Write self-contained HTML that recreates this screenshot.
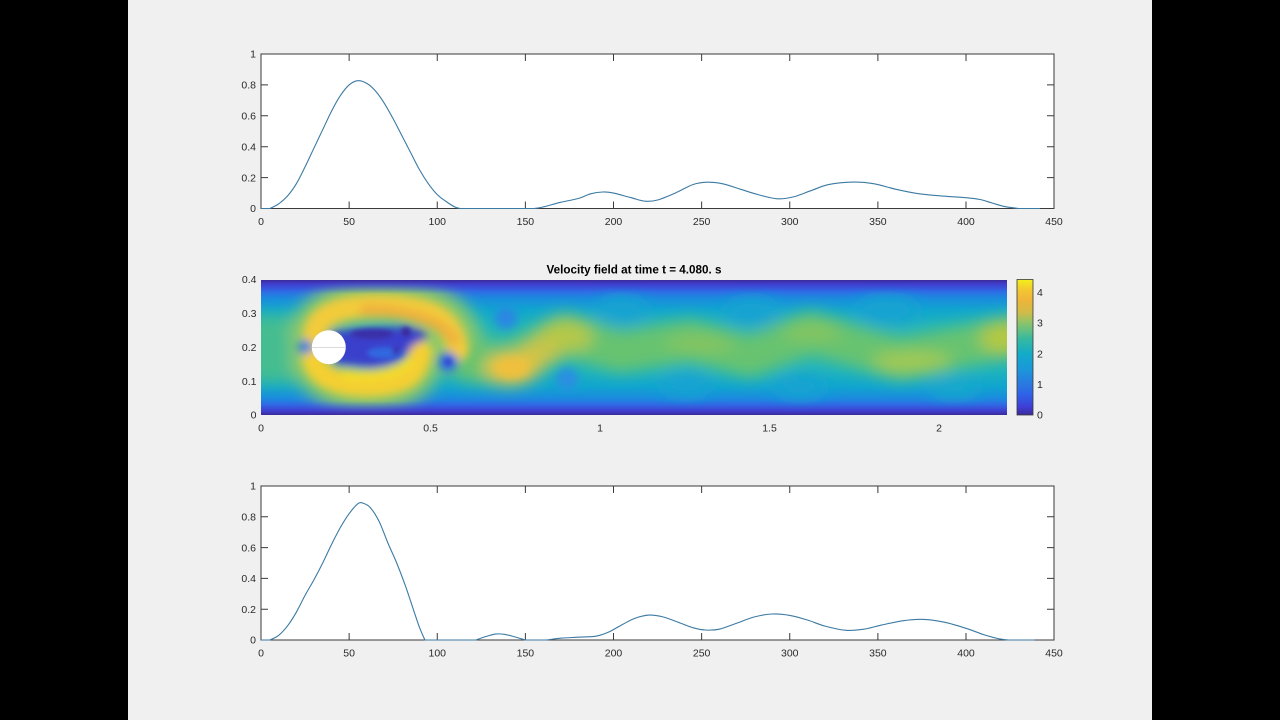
<!DOCTYPE html>
<html>
<head>
<meta charset="utf-8">
<style>
html,body{margin:0;padding:0;background:#000;}
body{width:1280px;height:720px;overflow:hidden;}
svg{display:block;}
text{font-family:"Liberation Sans",Arial,Helvetica,sans-serif;}
</style>
</head>
<body>
<svg id="fig" width="1280" height="720" viewBox="0 0 1280 720" xmlns="http://www.w3.org/2000/svg">
<defs>
  <linearGradient id="base" x1="0" y1="280" x2="0" y2="415" gradientUnits="userSpaceOnUse">
    <stop offset="0" stop-color="#3b2a9a"/>
    <stop offset="0.03" stop-color="#3f3fcf"/>
    <stop offset="0.08" stop-color="#2f6ae6"/>
    <stop offset="0.14" stop-color="#1a8ddd"/>
    <stop offset="0.22" stop-color="#10a5cf"/>
    <stop offset="0.33" stop-color="#1db3bd"/>
    <stop offset="0.5" stop-color="#36baa4"/>
    <stop offset="0.67" stop-color="#1db3bd"/>
    <stop offset="0.79" stop-color="#10a5cf"/>
    <stop offset="0.87" stop-color="#1a8ddd"/>
    <stop offset="0.93" stop-color="#2f6ae6"/>
    <stop offset="0.975" stop-color="#3f3fcf"/>
    <stop offset="1" stop-color="#3b2a9a"/>
  </linearGradient>
  <linearGradient id="wallTop" x1="0" y1="280" x2="0" y2="294" gradientUnits="userSpaceOnUse">
    <stop offset="0" stop-color="#3b2a9a" stop-opacity="1"/>
    <stop offset="0.3" stop-color="#3f3fcf" stop-opacity="0.8"/>
    <stop offset="1" stop-color="#2f6ae6" stop-opacity="0"/>
  </linearGradient>
  <linearGradient id="wallBot" x1="0" y1="415" x2="0" y2="401" gradientUnits="userSpaceOnUse">
    <stop offset="0" stop-color="#3b2a9a" stop-opacity="1"/>
    <stop offset="0.3" stop-color="#3f3fcf" stop-opacity="0.8"/>
    <stop offset="1" stop-color="#2f6ae6" stop-opacity="0"/>
  </linearGradient>
  <linearGradient id="cbar" x1="0" y1="415" x2="0" y2="279.5" gradientUnits="userSpaceOnUse">
    <stop offset="0" stop-color="#3b2a98"/>
    <stop offset="0.06" stop-color="#3e3ed6"/>
    <stop offset="0.15" stop-color="#2f62e8"/>
    <stop offset="0.226" stop-color="#2a78e0"/>
    <stop offset="0.34" stop-color="#1a98da"/>
    <stop offset="0.45" stop-color="#12abc8"/>
    <stop offset="0.56" stop-color="#35b9a0"/>
    <stop offset="0.68" stop-color="#8cc46a"/>
    <stop offset="0.76" stop-color="#d2bb48"/>
    <stop offset="0.85" stop-color="#efb539"/>
    <stop offset="0.92" stop-color="#f4c632"/>
    <stop offset="0.97" stop-color="#f2e024"/>
    <stop offset="1" stop-color="#f5ef1c"/>
  </linearGradient>
  <clipPath id="fieldClip"><rect x="261" y="280" width="746" height="135"/></clipPath>
  <filter id="blurL" filterUnits="userSpaceOnUse" x="200" y="230" width="880" height="240">
    <feGaussianBlur stdDeviation="8"/>
  </filter>
  <filter id="blurM" filterUnits="userSpaceOnUse" x="200" y="230" width="880" height="240">
    <feGaussianBlur stdDeviation="4.5"/>
  </filter>
  <filter id="blurS" filterUnits="userSpaceOnUse" x="200" y="230" width="880" height="240">
    <feGaussianBlur stdDeviation="2.5"/>
  </filter>
</defs>

<rect x="0" y="0" width="1280" height="720" fill="#000"/>
<rect x="128" y="0" width="1024" height="720" fill="#f0f0f0"/>

<!-- ================= TOP PLOT ================= -->
<rect x="261" y="54" width="793" height="154.5" fill="#fff" stroke="#3a3a3a" stroke-width="1"/>
<path d="M261 208.5v-7M261 54v7 M349.13 208.5v-7M349.13 54v7 M437.25 208.5v-7M437.25 54v7 M525.38 208.5v-7M525.38 54v7 M613.5 208.5v-7M613.5 54v7 M701.63 208.5v-7M701.63 54v7 M789.75 208.5v-7M789.75 54v7 M877.88 208.5v-7M877.88 54v7 M966 208.5v-7M966 54v7 M1054 208.5v-7M1054 54v7
M261 177.6h7M1054 177.6h-7 M261 146.7h7M1054 146.7h-7 M261 115.8h7M1054 115.8h-7 M261 84.9h7M1054 84.9h-7" stroke="#3a3a3a" stroke-width="1" fill="none"/>
<g font-size="10.5" fill="#2a2a2a" text-anchor="middle">
  <text x="261" y="225">0</text>
  <text x="349.13" y="225">50</text>
  <text x="437.25" y="225">100</text>
  <text x="525.38" y="225">150</text>
  <text x="613.5" y="225">200</text>
  <text x="701.63" y="225">250</text>
  <text x="789.75" y="225">300</text>
  <text x="877.88" y="225">350</text>
  <text x="966" y="225">400</text>
  <text x="1054" y="225">450</text>
</g>
<g font-size="10.5" fill="#2a2a2a" text-anchor="end">
  <text x="256" y="212.2">0</text>
  <text x="256" y="181.3">0.2</text>
  <text x="256" y="150.4">0.4</text>
  <text x="256" y="119.5">0.6</text>
  <text x="256" y="88.6">0.8</text>
  <text x="256" y="57.7">1</text>
</g>
<polyline class="crv" data-base="208.5" fill="none" stroke="#3b7aa3" stroke-width="1.1" stroke-linejoin="round" points="
261,208.5 269.8,208.5 278.6,203.9 287.4,196.1 296.3,183.8 305.1,166.8 313.9,148.2 322.7,129.7 331.5,111.2 340.3,95.7 349.1,84.9 357.9,80.7 366.8,83.4 375.6,91.1 384.4,103.4 393.2,118.9 402,135.9 410.8,152.9 419.6,169.9 428.4,183.8 437.3,194.6 446.1,201.5 454.9,207 460.2,208.5 534.2,208.5 543,207 560.6,202.3 578.3,198.5 590.6,193.8 602.9,192 613.5,193.1 631.1,197.7 645.2,201.2 657.6,200 675.2,193.1 692.8,184.6 706.9,182.2 722.8,183.8 740.4,189.2 758,194.6 777.4,198.8 793.3,196.9 810.9,190.7 828.5,184.6 853.2,182.1 874.3,183.8 895.5,189.2 916.7,193.4 939.6,195.8 966,197.7 980.1,199.5 992.5,203.1 1004.8,206.6 1018.9,208.5 1040,208.5"/>

<!-- ================= MIDDLE PLOT (velocity field) ================= -->
<text x="634" y="273.3" font-size="11.5" font-weight="bold" fill="#000" text-anchor="middle" textLength="175" lengthAdjust="spacingAndGlyphs">Velocity field at time t = 4.080. s</text>

<g clip-path="url(#fieldClip)">
  <rect x="261" y="280" width="746" height="135" fill="url(#base)"/>
  <g filter="url(#blurL)">
    <rect x="240" y="316" width="70" height="66" rx="20" fill="#45bd90"/>
    <path d="M312 335 C318 308,350 300,395 303 S458 318,462 354" stroke="#8ec866" stroke-width="44" fill="none" stroke-linecap="round"/>
    <path d="M312 360 C320 386,350 392,380 389 S420 374,424 350" stroke="#8ec866" stroke-width="42" fill="none" stroke-linecap="round"/>
    <polyline points="470,362 510,366 565,334 620,352 690,340 750,357 810,332 900,360 1000,338 1030,334" stroke="#68c370" stroke-width="40" fill="none" stroke-linejoin="round" stroke-linecap="round"/>
    <ellipse cx="622" cy="310" rx="26" ry="14" fill="#12a3d2"/>
    <ellipse cx="752" cy="312" rx="28" ry="14" fill="#12a3d2"/>
    <ellipse cx="887" cy="310" rx="32" ry="14" fill="#12a3d2"/>
    <ellipse cx="686" cy="385" rx="26" ry="12" fill="#12a3d2"/>
    <ellipse cx="800" cy="387" rx="26" ry="12" fill="#12a3d2"/>
    <ellipse cx="955" cy="388" rx="26" ry="10" fill="#14a8cc"/>
    <ellipse cx="565" cy="336" rx="28" ry="17" fill="#b4c84a"/>
    <ellipse cx="912" cy="362" rx="40" ry="11" fill="#a2c952"/>
    <ellipse cx="1004" cy="338" rx="24" ry="16" fill="#b4c842"/>
    <ellipse cx="700" cy="344" rx="34" ry="10" fill="#84c560"/>
    <ellipse cx="812" cy="332" rx="30" ry="10" fill="#84c560"/>
    <ellipse cx="540" cy="352" rx="20" ry="14" fill="#c8c448"/>
    <ellipse cx="512" cy="368" rx="28" ry="16" fill="#e8c23e"/>
  </g>
  <g filter="url(#blurM)">
    <path d="M314 334 C318 310,350 304,392 306 S452 320,458 350" stroke="#f3cb3a" stroke-width="22" fill="none" stroke-linecap="round"/>
    <path d="M365 310 C405 310,442 320,454 340" stroke="#efb03c" stroke-width="11" fill="none" stroke-linecap="round"/>
    <path d="M313 360 C320 382,350 388,380 385 S416 372,421 352" stroke="#f4cf30" stroke-width="22" fill="none" stroke-linecap="round"/>
    <path d="M345 374 C370 378,395 374,410 362" stroke="#f5dd2a" stroke-width="9" fill="none" stroke-linecap="round"/>
    <path d="M330 331 L400 327 Q432 329 426 339 L412 346 Q404 366 370 368 L334 364 Z" fill="#3b40cc"/>
    <circle cx="305" cy="347" r="7" fill="#2a7ae6"/>
    <circle cx="448" cy="362" r="10" fill="#2f72e2"/>
    <circle cx="506" cy="318" r="11" fill="#2a86e4"/>
    <circle cx="567" cy="379" r="11" fill="#2a8ee2"/>
    <ellipse cx="512" cy="368" rx="16" ry="9" fill="#f0c03c"/>
  </g>
  <g filter="url(#blurS)">
    <ellipse cx="385" cy="353" rx="18" ry="6" fill="#3168e0"/>
    <ellipse cx="372" cy="334" rx="22" ry="5" fill="#3a2fa8"/>
    <circle cx="406" cy="332" r="5" fill="#3a2aa0"/>
    <circle cx="396" cy="351" r="4" fill="#3a34b0"/>
    <circle cx="448" cy="362" r="4" fill="#3a4ad0"/>
  </g>
  <rect x="261" y="280" width="746" height="14" fill="url(#wallTop)"/>
  <rect x="261" y="401" width="746" height="14" fill="url(#wallBot)"/>
  <circle cx="328.8" cy="347.2" r="17" fill="#ffffff"/>
  <line x1="312" y1="347.5" x2="345.5" y2="347.5" stroke="#cfcfcf" stroke-width="0.8"/>
</g>

<g font-size="10.5" fill="#2a2a2a" text-anchor="middle">
  <text x="261" y="431.5">0</text>
  <text x="430.5" y="431.5">0.5</text>
  <text x="600" y="431.5">1</text>
  <text x="769.5" y="431.5">1.5</text>
  <text x="939" y="431.5">2</text>
</g>
<g font-size="10.5" fill="#2a2a2a" text-anchor="end">
  <text x="256.5" y="418.7">0</text>
  <text x="256.5" y="384.8">0.1</text>
  <text x="256.5" y="350.9">0.2</text>
  <text x="256.5" y="317">0.3</text>
  <text x="256.5" y="283.1">0.4</text>
</g>

<rect x="1017" y="279.5" width="16" height="135.5" fill="url(#cbar)" stroke="#3a3a3a" stroke-width="0.8"/>
<g font-size="10.5" fill="#2a2a2a" text-anchor="start">
  <text x="1037" y="418.7">0</text>
  <text x="1037" y="388">1</text>
  <text x="1037" y="357.3">2</text>
  <text x="1037" y="326.6">3</text>
  <text x="1037" y="296">4</text>
</g>

<!-- ================= BOTTOM PLOT ================= -->
<rect x="261" y="486" width="793" height="154" fill="#fff" stroke="#3a3a3a" stroke-width="1"/>
<path d="M261 640v-7M261 486v7 M349.13 640v-7M349.13 486v7 M437.25 640v-7M437.25 486v7 M525.38 640v-7M525.38 486v7 M613.5 640v-7M613.5 486v7 M701.63 640v-7M701.63 486v7 M789.75 640v-7M789.75 486v7 M877.88 640v-7M877.88 486v7 M966 640v-7M966 486v7 M1054 640v-7M1054 486v7
M261 609.2h7M1054 609.2h-7 M261 578.4h7M1054 578.4h-7 M261 547.6h7M1054 547.6h-7 M261 516.8h7M1054 516.8h-7" stroke="#3a3a3a" stroke-width="1" fill="none"/>
<g font-size="10.5" fill="#2a2a2a" text-anchor="middle">
  <text x="261" y="656.5">0</text>
  <text x="349.13" y="656.5">50</text>
  <text x="437.25" y="656.5">100</text>
  <text x="525.38" y="656.5">150</text>
  <text x="613.5" y="656.5">200</text>
  <text x="701.63" y="656.5">250</text>
  <text x="789.75" y="656.5">300</text>
  <text x="877.88" y="656.5">350</text>
  <text x="966" y="656.5">400</text>
  <text x="1054" y="656.5">450</text>
</g>
<g font-size="10.5" fill="#2a2a2a" text-anchor="end">
  <text x="256" y="643.7">0</text>
  <text x="256" y="612.9">0.2</text>
  <text x="256" y="582.1">0.4</text>
  <text x="256" y="551.3">0.6</text>
  <text x="256" y="520.5">0.8</text>
  <text x="256" y="489.7">1</text>
</g>
<polyline class="crv" fill="none" stroke="#3b7aa3" stroke-width="1.1" stroke-linejoin="round" points="
261,640 269.8,640 278.6,635.4 287.4,626.1 296.3,612.3 305.1,595.3 313.9,579.9 322.7,563 331.5,544.5 340.3,527.6 349.1,513.7 357.9,503.7 363.2,503.2 370.3,507.6 379.1,521.4 387.9,543 396.7,563 405.5,586.1 414.3,612.3 419.6,627.7 424.9,640 476,640 484.8,636.9 495.4,634.1 504.2,634.3 514.8,636.9 525.4,640 546.5,640 560.6,638.2 578.3,637.2 595.9,636.2 608.2,632.3 622.3,624.6 634.7,618.4 648.8,615.1 662.9,616.9 680.5,623.1 692.8,627.7 705.2,630 719.3,629.2 736.9,623.1 754.5,616.9 772.1,614 789.8,615.4 807.4,620 825,626.1 846.1,630.3 863.8,629.2 881.4,625.1 902.6,620.8 923.7,619.4 944.9,622.3 966,628.3 983.6,634.6 997.7,638.5 1008.3,640 1034.7,640"/>
</svg>
<script>
(function(){
  var ns="http://www.w3.org/2000/svg";
  var pls=document.querySelectorAll("polyline.crv");
  for(var k=0;k<pls.length;k++){
    var pl=pls[k];
    var raw=pl.getAttribute("points").trim().split(/\s+/);
    var p=[];
    for(var i=0;i<raw.length;i++){var a=raw[i].split(",");p.push([+a[0],+a[1]]);}
    var base=-1e9;
    for(var i=0;i<p.length;i++){if(p[i][1]>base)base=p[i][1];}
    var d="M"+p[0][0]+" "+p[0][1];
    for(var i=0;i<p.length-1;i++){
      var p1=p[i],p2=p[i+1];
      if(p1[1]===p2[1]){d+=" L"+p2[0]+" "+p2[1];continue;}
      var p0=p[i-1]||p1,p3=p[i+2]||p2;
      if(p0[1]===p1[1])p0=p1;
      if(p3[1]===p2[1])p3=p2;
      var c1x=p1[0]+(p2[0]-p0[0])/6,c1y=p1[1]+(p2[1]-p0[1])/6;
      var c2x=p2[0]-(p3[0]-p1[0])/6,c2y=p2[1]-(p3[1]-p1[1])/6;
      if(c1y>base)c1y=base;
      if(c2y>base)c2y=base;
      d+=" C"+c1x.toFixed(2)+" "+c1y.toFixed(2)+" "+c2x.toFixed(2)+" "+c2y.toFixed(2)+" "+p2[0]+" "+p2[1];
    }
    var path=document.createElementNS(ns,"path");
    path.setAttribute("d",d);
    path.setAttribute("fill","none");
    path.setAttribute("stroke",pl.getAttribute("stroke"));
    path.setAttribute("stroke-width",pl.getAttribute("stroke-width"));
    path.setAttribute("stroke-linejoin","round");
    pl.parentNode.replaceChild(path,pl);
  }
})();
</script>
</body>
</html>
